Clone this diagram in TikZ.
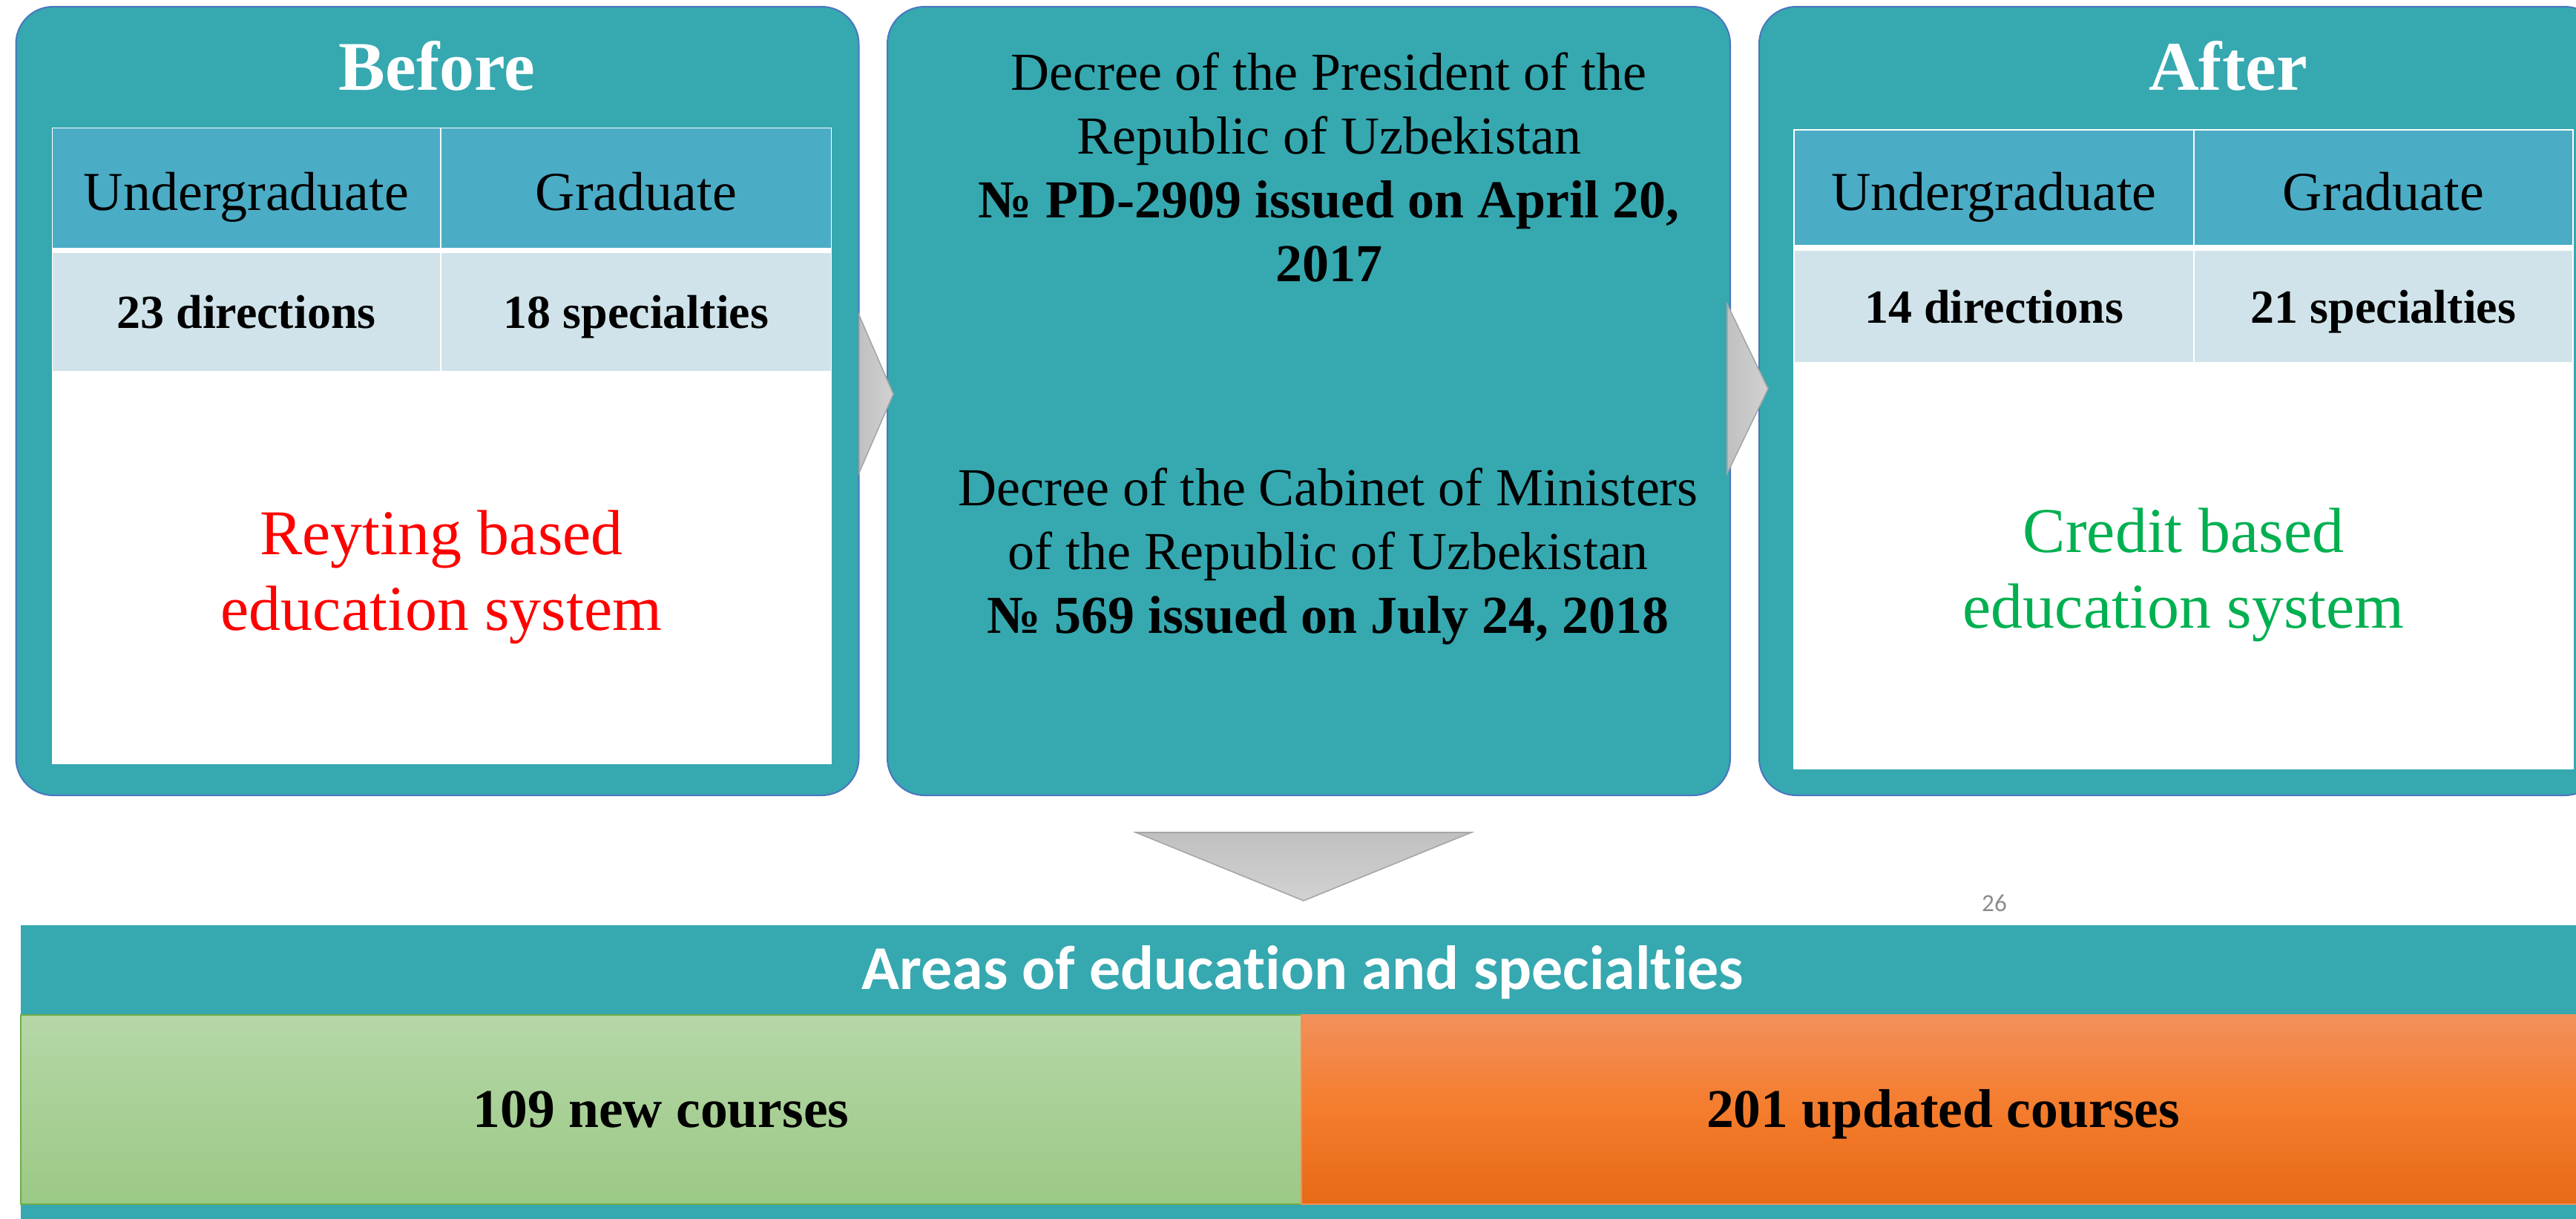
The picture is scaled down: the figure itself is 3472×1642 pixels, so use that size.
\documentclass[tikz,border=0pt]{standalone}
\usepackage{fontspec}
\setmainfont{Liberation Serif}
\newfontfamily\calibri[Ligatures=NoCommon]{Carlito}
\definecolor{boxteal}{HTML}{36A8B0}
\definecolor{boxline}{HTML}{4A76C0}
\definecolor{headblue}{HTML}{4BACC6}
\definecolor{rowpale}{HTML}{D0E3EA}
\definecolor{arrowgrey}{HTML}{C0C0C0}
\definecolor{arrowlight}{HTML}{D2D2D2}
\definecolor{arrowedge}{HTML}{A6A6A6}
\definecolor{reytred}{HTML}{FF0000}
\definecolor{creditgreen}{HTML}{00B050}
\definecolor{newtop}{HTML}{B6D7A8}
\definecolor{newbot}{HTML}{9BC985}
\definecolor{newedge}{HTML}{70AD47}
\definecolor{updtop}{HTML}{F2905A}
\definecolor{updmid}{HTML}{F47C2C}
\definecolor{updbot}{HTML}{E76A17}
\definecolor{pagegrey}{HTML}{8C8C8C}
\tikzset{
  stagebox/.style={draw=boxline,line width=0.5pt,fill=boxteal,rounded corners=12.5pt,
    minimum width=284pt,minimum height=265.75pt,inner sep=0pt},
  stagetitle/.style={text=white,inner sep=0pt,font=\bfseries\fontsize{23.5}{28}\selectfont},
  headcell/.style 2 args={fill=headblue,minimum width=#1,minimum height=#2,inner sep=0pt,
    text height=15pt,text depth=0pt,font=\fontsize{18.5}{22}\selectfont},
  rowcell/.style 2 args={fill=rowpale,minimum width=#1,minimum height=#2,inner sep=0pt,
    text height=11pt,text depth=0pt,font=\bfseries\fontsize{16}{19}\selectfont},
  decree/.style={align=center,anchor=north,inner sep=0pt,font=\fontsize{18}{21.5}\selectfont},
  sysnote/.style={align=center,anchor=north,inner sep=0pt,font=\fontsize{21.5}{25.5}\selectfont},
  sidearrow/.style={left color=arrowgrey,right color=arrowlight,draw=arrowedge,line width=0.4pt},
  coursebox/.style={minimum width=#1,minimum height=63.75pt,inner sep=0pt,line width=0.5pt,
    text height=12pt,text depth=0pt,font=\bfseries\fontsize{18.4}{21}\selectfont}
}
\begin{document}
\begin{tikzpicture}[x=0.25pt,y=-0.25pt]
  \useasboundingbox (0,0) rectangle (3472,1642);
  \clip (0,0) rectangle (3472,1642);
  % three stages
  \node[stagebox] (before) at (589.5,540.5) {};
  \node[stagebox] (decrees) at (1764,540.5) {};
  \node[stagebox] (after) at (2939,540.5) {};
  \node[stagetitle] (beforetitle) at (589,89) {Before};
  \node[stagetitle] (aftertitle) at (3003,89) {After};
  % tables
  \fill[white] (70,172) rectangle (1121,1030);
  \fill[white] (2417,174) rectangle (3469,1037);
  \foreach \nm/\cx/\cw/\txt in {bug/332/130.5pt/Undergraduate,bgr/857.5/131.25pt/Graduate} {
    \node[headcell={\cw}{40.25pt}] (\nm) at (\cx,253.5) {\txt};
  }
  \foreach \nm/\cx/\cw/\txt in {bugnum/332/130.5pt/23 directions,bgrnum/857.5/131.25pt/18 specialties} {
    \node[rowcell={\cw}{39.75pt}] (\nm) at (\cx,420.5) {\txt};
  }
  \foreach \nm/\cx/\cw/\txt in {aug/2687.5/134.25pt/Undergraduate,agr/3212.5/127.25pt/Graduate} {
    \node[headcell={\cw}{38.5pt}] (\nm) at (\cx,253) {\txt};
  }
  \foreach \nm/\cx/\cw/\txt in {augnum/2687.5/134.25pt/14 directions,agrnum/3212.5/127.25pt/21 specialties} {
    \node[rowcell={\cw}{37.5pt}] (\nm) at (\cx,413) {\txt};
  }
  \node[sysnote,text=reytred] (reyting) at (595,687) {Reyting based\\education system};
  \node[sysnote,text=creditgreen] (credit) at (2943,684) {Credit based\\education system};
  % decrees
  \node[decree] (presdecree) at (1791,70) {Decree of the President of the\\Republic of Uzbekistan\\
    \textbf{№ PD-2909 issued on April 20,}\\\textbf{2017}};
  \node[decree] (cabdecree) at (1790,630) {Decree of the Cabinet of Ministers\\
    of the Republic of Uzbekistan\\\textbf{№ 569 issued on July 24, 2018}};
  % grey arrows
  \path[sidearrow] (1158,425) -- (1204,531) -- (1158,637) -- cycle;
  \path[sidearrow] (2328,410) -- (2383,524) -- (2328,638) -- cycle;
  \path[top color=arrowgrey,bottom color=arrowlight,draw=arrowedge,line width=0.4pt]
    (1531,1122) -- (1983,1122) -- (1757,1214) -- cycle;
  \node[text=pagegrey,font=\calibri\fontsize{8.3}{10}\selectfont] (pagenum) at (2688,1217) {26};
  % bottom band
  \fill[boxteal] (28,1247) rectangle (3500,1660);
  \node[text=white,minimum width=864pt,minimum height=30.25pt,inner sep=0pt,text height=13.2pt,
    text depth=0pt,font=\calibri\bfseries\fontsize{21}{25}\selectfont] (areas) at (1756,1307.5)
    {Areas of education and specialties};
  \node[coursebox=431.5pt,top color=newtop,bottom color=newbot,draw=newedge] (newcourses)
    at (891,1495.5) {109 new courses};
  \node[coursebox=432.5pt,top color=updtop,bottom color=updbot,middle color=updmid,draw=updtop]
    (updcourses) at (2619,1495.5) {201 updated courses};
\end{tikzpicture}
\end{document}
